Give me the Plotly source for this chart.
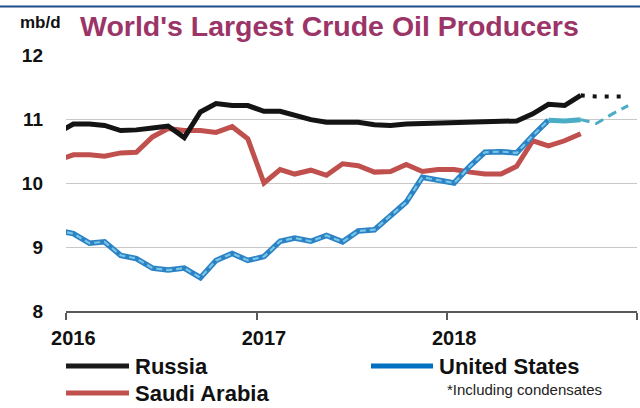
import pandas as pd
import plotly.graph_objects as go

# Monthly production, mb/d, Dec 2015 .. Sep 2018 (plotted mid-month)
months = pd.date_range("2015-12-01", "2018-09-01", freq="MS") + pd.Timedelta(days=14)

russia = [10.78,
          10.92, 10.92, 10.90, 10.82, 10.83, 10.86, 10.89, 10.71, 11.11, 11.24, 11.21, 11.21,
          11.12, 11.12, 11.05, 10.99, 10.95, 10.95, 10.95, 10.91, 10.90, 10.92, 10.93, 10.94,
          10.95, 10.95, 10.96, 10.97, 10.97, 11.08, 11.23, 11.21, 11.37]

saudi = [10.35,
         10.44, 10.44, 10.42, 10.47, 10.48, 10.72, 10.85, 10.82, 10.82, 10.79, 10.88, 10.69,
         10.00, 10.21, 10.14, 10.20, 10.12, 10.30, 10.27, 10.17, 10.18, 10.29, 10.18, 10.21,
         10.21, 10.17, 10.14, 10.14, 10.26, 10.66, 10.58, 10.66, 10.77]

usa = [9.26,
       9.21, 9.06, 9.08, 8.87, 8.82, 8.67, 8.64, 8.67, 8.52, 8.79, 8.90, 8.79,
       8.85, 9.09, 9.14, 9.09, 9.18, 9.08, 9.25, 9.27, 9.49, 9.70, 10.09, 10.04,
       10.00, 10.27, 10.48, 10.49, 10.47, 10.74, 10.98, 10.97, 10.99]

# Short-term outlook, Sep 2018 .. Dec 2018
fc_months = ["2018-09-15", "2018-10-15", "2018-11-15", "2018-12-15"]
russia_fc = [11.37, 11.35, 11.35, 11.35]
usa_fc = [10.99, 10.93, 11.08, 11.21]

year_ticks = ["2016-01-01", "2017-01-01", "2018-01-01", "2019-01-01"]
year_label_pos = ["2016-01-15", "2017-01-15", "2018-01-15"]
year_labels = ["2016", "2017", "2018"]
y_ticks = [8, 9, 10, 11, 12]

FONT = "Arial, Liberation Sans, sans-serif"
W, H = 640, 408
L, R, T, B = 66, 637, 55, 311  # plot area in pixels


def px(x):
    return (x - L) / (R - L)


def py(y):
    return (B - y) / (B - T)


n_main = len(months) - 3  # blue trace runs to Jul 2018

fig = go.Figure()
fig.add_trace(go.Scatter(x=months, y=saudi, mode="lines",
                         line=dict(color="#c0504d", width=5)))
fig.add_trace(go.Scatter(x=months, y=russia, mode="lines",
                         line=dict(color="#141414", width=5)))
fig.add_trace(go.Scatter(x=fc_months, y=russia_fc, mode="lines",
                         line=dict(color="#141414", width=4, dash="4px,8px")))
fig.add_trace(go.Scatter(x=months[:n_main + 1], y=usa[:n_main + 1], mode="lines",
                         line=dict(color="#2b82c4", width=5.5)))
fig.add_trace(go.Scatter(x=months[:n_main + 1], y=usa[:n_main + 1], mode="lines",
                         line=dict(color="#78c6e6", width=2.2, dash="6px,4px")))
fig.add_trace(go.Scatter(x=months[n_main:], y=usa[n_main:], mode="lines",
                         line=dict(color="#4bacc6", width=5)))
fig.add_trace(go.Scatter(x=fc_months, y=usa_fc, mode="lines",
                         line=dict(color="#4bacc6", width=3, dash="9px,6px")))

fig.update_layout(
    width=W, height=H,
    margin=dict(l=L, r=W - R, t=T, b=H - B),
    paper_bgcolor="white", plot_bgcolor="white",
    showlegend=False,
    font=dict(family=FONT, color="#111111"),
    xaxis=dict(
        type="date", range=["2016-01-01", "2019-01-01"],
        tickmode="array", tickvals=year_label_pos, ticktext=year_labels,
        ticks="", ticklabelstandoff=8,
        tickfont=dict(family=FONT, size=20, color="#111111", weight="bold"),
        showgrid=False, zeroline=False,
        showline=True, linecolor="#595959", linewidth=1.5,
        minor=dict(tickmode="array", tickvals=year_ticks, ticks="outside",
                   ticklen=7, tickwidth=1.5, tickcolor="#595959", showgrid=False),
    ),
    yaxis=dict(
        range=[8, 12], tickmode="array", tickvals=y_ticks,
        ticks="", ticklabelstandoff=22,
        tickfont=dict(family=FONT, size=19, color="#111111", weight="bold"),
        showgrid=True, gridcolor="#c8c8c8", gridwidth=1,
        zeroline=False, showline=False,
    ),
)

annotations = [
    dict(text="mb/d", x=px(18), y=py(22), xanchor="left", yanchor="middle",
         font=dict(family=FONT, size=17, color="#111111", weight="bold")),
    dict(text="World's Largest Crude Oil Producers", x=px(78), y=py(26),
         xanchor="left", yanchor="middle",
         font=dict(family=FONT, size=28.5, color="#9b3467", weight="bold")),
    dict(text="Russia", x=px(133), y=py(366), xanchor="left", yanchor="middle",
         font=dict(family=FONT, size=22, color="#111111", weight="bold")),
    dict(text="United States", x=px(437), y=py(366), xanchor="left", yanchor="middle",
         font=dict(family=FONT, size=22, color="#111111", weight="bold")),
    dict(text="Saudi Arabia", x=px(133), y=py(393), xanchor="left", yanchor="middle",
         font=dict(family=FONT, size=22, color="#111111", weight="bold")),
    dict(text="*Including condensates", x=px(445), y=py(389), xanchor="left",
         yanchor="middle", font=dict(family=FONT, size=15, color="#222222")),
]
for a in annotations:
    a.update(xref="paper", yref="paper", showarrow=False)
fig.update_layout(annotations=annotations)

shapes = [
    # page rule across the top
    dict(type="line", x0=px(0), x1=px(640), y0=py(6.5), y1=py(6.5),
         line=dict(color="#1f4e8c", width=2)),
    # legend keys
    dict(type="line", x0=px(66), x1=px(129), y0=py(366), y1=py(366),
         line=dict(color="#1a1a1a", width=5)),
    dict(type="line", x0=px(371), x1=px(433), y0=py(366), y1=py(366),
         line=dict(color="#0070c0", width=5)),
    dict(type="line", x0=px(66), x1=px(129), y0=py(393), y1=py(393),
         line=dict(color="#c0504d", width=5)),
]
for s in shapes:
    s.update(xref="paper", yref="paper", layer="above")
fig.update_layout(shapes=shapes)

fig.write_html("out.html")
